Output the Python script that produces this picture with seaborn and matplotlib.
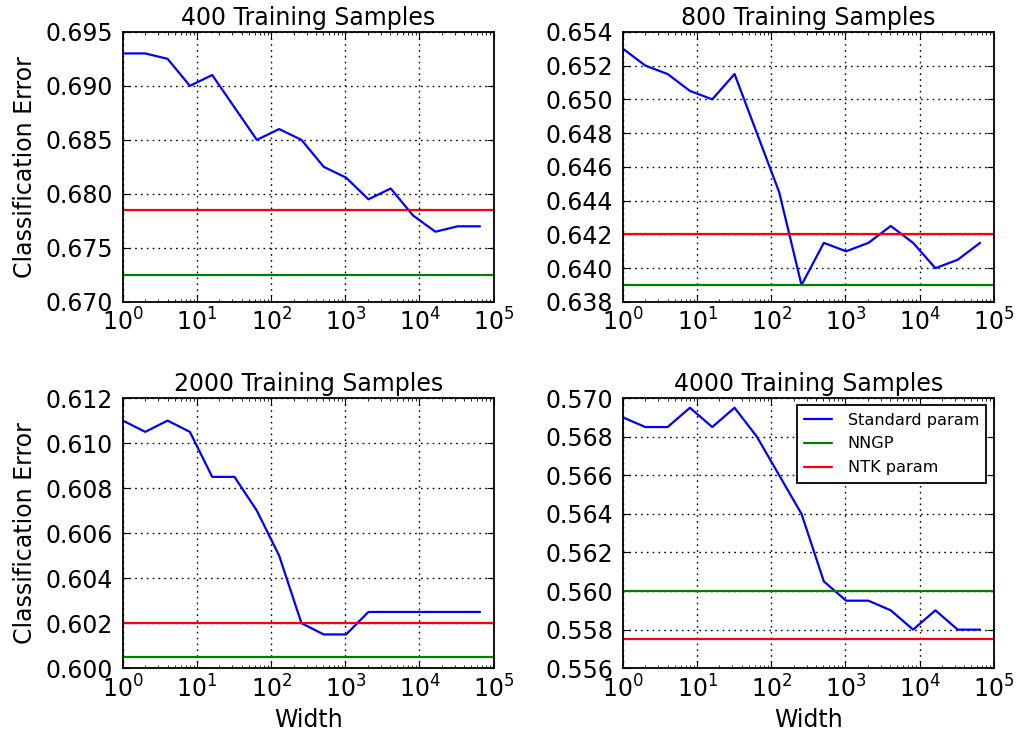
import numpy as np
import seaborn as sns
import matplotlib
matplotlib.use("Agg")
import matplotlib.pyplot as plt
from matplotlib.ticker import FormatStrFormatter, LogLocator

# widths are powers of two, 2^0 .. 2^16
widths = [2 ** k for k in range(17)]

titles = ["400 Training Samples", "800 Training Samples",
          "2000 Training Samples", "4000 Training Samples"]

standard_400 = [0.693, 0.693, 0.6925, 0.690, 0.691, 0.688, 0.685, 0.686, 0.685,
                0.6825, 0.6815, 0.6795, 0.6805, 0.678, 0.6765, 0.677, 0.677]
standard_800 = [0.653, 0.652, 0.6515, 0.6505, 0.650, 0.6515, 0.648, 0.6445, 0.639,
                0.6415, 0.641, 0.6415, 0.6425, 0.6415, 0.640, 0.6405, 0.6415]
standard_2000 = [0.611, 0.6105, 0.611, 0.6105, 0.6085, 0.6085, 0.607, 0.605, 0.602,
                 0.6015, 0.6015, 0.6025, 0.6025, 0.6025, 0.6025, 0.6025, 0.6025]
standard_4000 = [0.569, 0.5685, 0.5685, 0.5695, 0.5685, 0.5695, 0.568, 0.566, 0.564,
                 0.5605, 0.5595, 0.5595, 0.559, 0.558, 0.559, 0.558, 0.558]

nngp = [0.6725, 0.639, 0.6005, 0.560]
ntk = [0.6785, 0.642, 0.602, 0.5575]

y_limits = [(0.670, 0.695), (0.638, 0.654), (0.600, 0.612), (0.556, 0.570)]
y_steps = [0.005, 0.002, 0.002, 0.002]

standard = [standard_400, standard_800, standard_2000, standard_4000]

sns.set_style("ticks")
plt.rcParams.update({
    "font.family": ["DejaVu Sans"],
    "font.size": 17,
    "text.color": "black",
    "axes.labelcolor": "black",
    "xtick.color": "black",
    "ytick.color": "black",
    "xtick.direction": "in",
    "ytick.direction": "in",
    "xtick.top": True,
    "ytick.right": True,
    "xtick.major.size": 5,
    "ytick.major.size": 5,
    "xtick.minor.size": 2.5,
    "xtick.labelsize": 17,
    "ytick.labelsize": 17,
    "axes.edgecolor": "black",
    "axes.linewidth": 1.3,
    "axes.titlesize": 17,
    "axes.labelsize": 17,
    "grid.color": "black",
    "grid.linewidth": 1.0,
    "mathtext.default": "regular",
})

fig, axes = plt.subplots(2, 2, figsize=(10.16, 7.4), dpi=100)
fig.subplots_adjust(left=0.121, right=0.978, top=0.957, bottom=0.097,
                    wspace=0.349, hspace=0.356)

for i, ax in enumerate(axes.flat):
    sns.lineplot(x=widths, y=standard[i], ax=ax, color="#0000ff", lw=1.6,
                 label="Standard param")
    ax.axhline(nngp[i], color="#008000", lw=1.6, label="NNGP")
    ax.axhline(ntk[i], color="#ff0000", lw=1.6, label="NTK param")

    ax.set_xscale("log")
    ax.set_xlim(1, 1e5)
    ax.xaxis.set_major_locator(LogLocator(base=10, numticks=10))
    ax.xaxis.set_minor_locator(LogLocator(base=10, subs=np.arange(2, 10), numticks=20))
    lo, hi = y_limits[i]
    ax.set_ylim(lo, hi)
    ax.set_yticks(np.arange(lo, hi + 1e-9, y_steps[i]))
    ax.yaxis.set_major_formatter(FormatStrFormatter("%.3f"))
    ax.tick_params(which="both", top=True, right=True, direction="in")
    ax.tick_params(axis="x", pad=5)
    ax.tick_params(axis="y", pad=7)
    ax.grid(True, which="major", linestyle=(0, (1.2, 3.0)))
    ax.set_title(titles[i], pad=5)

    if i % 2 == 0:
        ax.set_ylabel("Classification Error", labelpad=6)
    if i >= 2:
        ax.set_xlabel("Width")

    if i == 3:
        leg = ax.legend(loc="upper right", fontsize=11.6, fancybox=False,
                        framealpha=1, edgecolor="black", borderpad=0.45,
                        handlelength=1.7, handletextpad=1.0, labelspacing=0.55,
                        borderaxespad=0.45)
        leg.get_frame().set_linewidth(1.3)
    else:
        ax.get_legend().remove()

fig.savefig("out.png", dpi=100, facecolor="white")
